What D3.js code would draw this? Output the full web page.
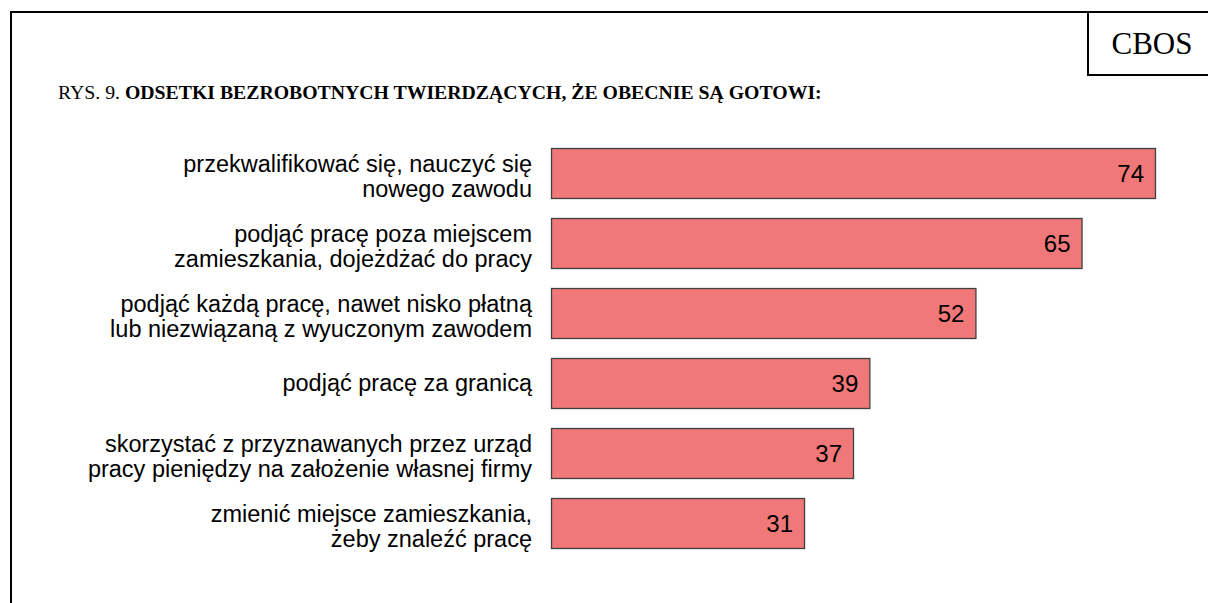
<!DOCTYPE html>
<html><head><meta charset="utf-8">
<script src="https://cdn.jsdelivr.net/npm/d3@7"></script>
<style>body{margin:0;background:#fff}svg{display:block}</style>
</head><body>
<svg id="c" width="1208" height="603"></svg>
<script>
const categories = [
  ["przekwalifikować się, nauczyć się", "nowego zawodu"],
  ["podjąć pracę poza miejscem", "zamieszkania, dojeżdżać do pracy"],
  ["podjąć każdą pracę, nawet nisko płatną", "lub niezwiązaną z wyuczonym zawodem"],
  ["podjąć pracę za granicą"],
  ["skorzystać z przyznawanych przez urząd", "pracy pieniędzy na założenie własnej firmy"],
  ["zmienić miejsce zamieszkania,", "żeby znaleźć pracę"]
];
const values = [74, 65, 52, 39, 37, 31];
const titlePrefix = "RYS. 9. ";
const titleBold = "ODSETKI BEZROBOTNYCH TWIERDZĄCYCH, ŻE OBECNIE SĄ GOTOWI:";
const logo = "CBOS";

const svg = d3.select("#c");
// frame
svg.append("path").attr("d","M11,620 V12 H1220").attr("fill","none").attr("stroke","#000").attr("stroke-width",2);
svg.append("path").attr("d","M1088,12 V75 H1220").attr("fill","none").attr("stroke","#000").attr("stroke-width",2);
svg.append("text").attr("x",1152).attr("y",54).attr("text-anchor","middle")
  .attr("font-family","Liberation Serif, Times New Roman, serif").attr("font-size",31).text(logo);

const t = svg.append("text").attr("x",58).attr("y",99)
  .attr("font-family","Liberation Serif, Times New Roman, serif").attr("font-size",19.75);
t.append("tspan").text(titlePrefix);
t.append("tspan").attr("font-weight","bold").text(titleBold);

const idx = values.map((d,i)=>i);
const y = d3.scaleBand().domain(idx).range([138,558]).paddingInner(20/70).paddingOuter(10/70);
const x = d3.scaleLinear().domain([0,74]).range([551,1155]);

const g = svg.append("g");
g.selectAll("rect").data(values).join("rect")
  .attr("x",x(0)+0.5).attr("y",(d,i)=>y(i)+0.5)
  .attr("width",d=>x(d)-x(0)).attr("height",y.bandwidth())
  .attr("fill","#F07878").attr("stroke","#404040").attr("stroke-width",1.3);

g.selectAll("text.v").data(values).join("text").attr("class","v")
  .attr("x",d=>x(d)-11).attr("y",(d,i)=>y(i)+y.bandwidth()/2+9)
  .attr("text-anchor","end").attr("font-family","Liberation Sans, Arial, sans-serif")
  .attr("font-size",24).attr("fill","#000").text(d=>d);

const lab = g.selectAll("text.l").data(categories).join("text").attr("class","l")
  .attr("text-anchor","end").attr("font-family","Liberation Sans, Arial, sans-serif")
  .attr("font-size",23.5).attr("fill","#000");
lab.each(function(lines,i){
  const cy = y(i)+y.bandwidth()/2;
  const lh = 25.5;
  const first = lines.length === 1 ? cy + 8 : cy - 1.5;
  d3.select(this).selectAll("tspan").data(lines).join("tspan")
    .attr("x",532).attr("y",(d,j)=>first+j*lh).text(d=>d);
});
</script>
</body></html>
